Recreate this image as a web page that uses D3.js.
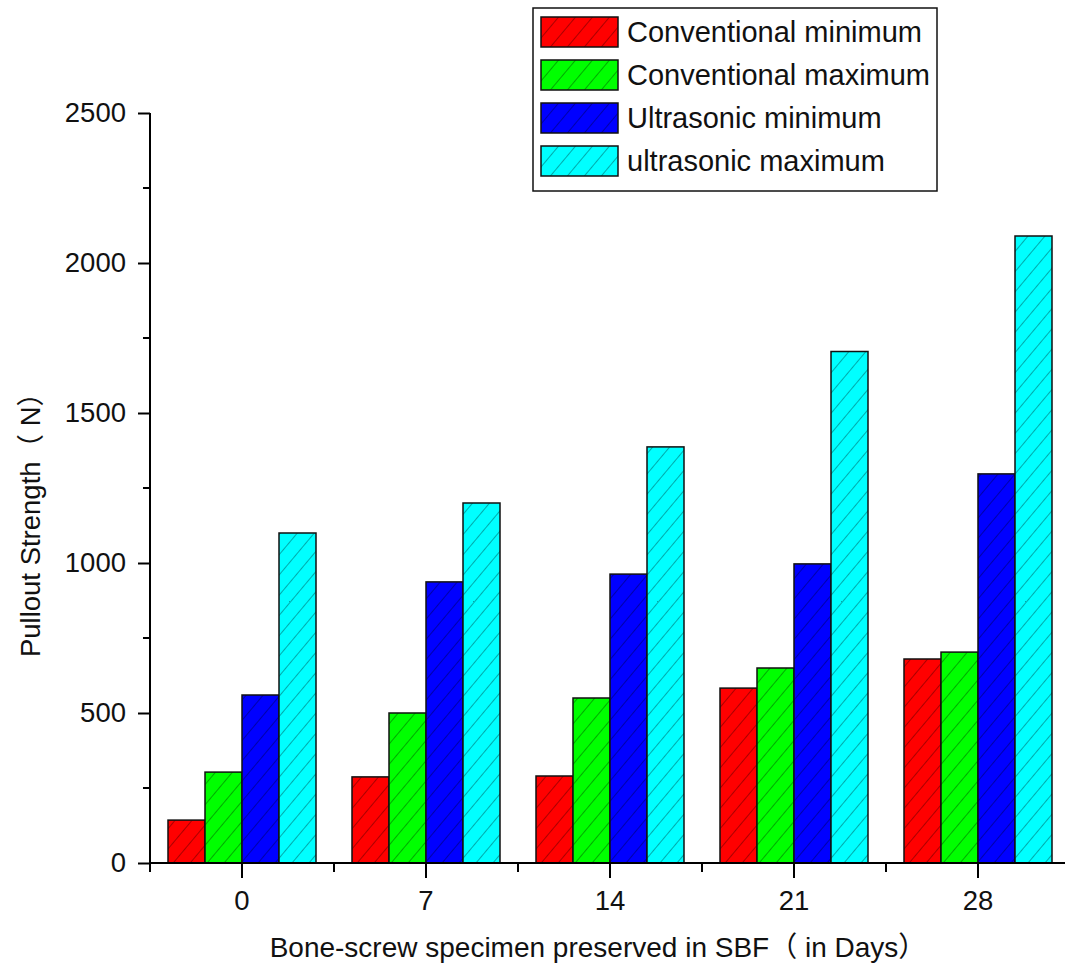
<!DOCTYPE html>
<html>
<head>
<meta charset="utf-8">
<script src="https://cdn.jsdelivr.net/npm/d3@7"></script>
<style>
  html, body { margin: 0; padding: 0; background: #fff; }
  svg { display: block; }
  text { font-family: "Liberation Sans", Arial, "Noto Sans CJK SC", sans-serif; fill: #111; }
</style>
</head>
<body>
<svg id="chart" width="1065" height="965"></svg>
<script>
// Pullout strength (N) of bone-screw specimens kept in SBF
const days = ["0", "7", "14", "21", "28"];
const seriesNames = ["Conventional minimum", "Conventional maximum", "Ultrasonic minimum", "ultrasonic maximum"];
const seriesColors = ["#ff0000", "#00ff00", "#0000ff", "#00ffff"];
const convMin = [143, 287, 290, 583, 680];
const convMax = [303, 500, 550, 650, 703];
const ultraMin = [560, 937, 963, 997, 1297];
const ultraMax = [1100, 1200, 1387, 1705, 2090];
const yTicks = [0, 500, 1000, 1500, 2000, 2500];
const yMinorTicks = [250, 750, 1250, 1750, 2250];

const values = [convMin, convMax, ultraMin, ultraMax];

const svg = d3.select("#chart");
const plotLeft = 150, plotRight = 1070, plotTop = 113, plotBottom = 863;

const x0 = d3.scaleBand().domain(days).range([plotLeft, plotRight]).padding(0);
const groupPad = 18;
const x1 = d3.scaleBand().domain(d3.range(seriesNames.length))
  .range([groupPad, x0.bandwidth() - groupPad]).padding(0);
const y = d3.scaleLinear().domain([0, 2500]).range([plotBottom, plotTop]);

// diagonal hatch patterns, one per colour
const defs = svg.append("defs");
seriesColors.forEach((c, i) => {
  const p = defs.append("pattern")
    .attr("id", "hatch" + i)
    .attr("patternUnits", "userSpaceOnUse")
    .attr("width", 13).attr("height", 13)
    .attr("patternTransform", "rotate(40)");
  p.append("rect").attr("width", 13).attr("height", 13).attr("fill", c);
  p.append("line").attr("x1", 0).attr("y1", 0).attr("x2", 0).attr("y2", 13)
    .attr("stroke", "#000").attr("stroke-opacity", 0.6).attr("stroke-width", 1.1);
});

// bars
const groups = svg.append("g").selectAll("g")
  .data(days).join("g")
  .attr("transform", d => `translate(${x0(d)},0)`);

groups.selectAll("rect")
  .data((d, di) => values.map((arr, si) => ({ si, v: arr[di] })))
  .join("rect")
  .attr("x", d => x1(d.si))
  .attr("width", x1.bandwidth())
  .attr("y", d => y(d.v))
  .attr("height", d => y(0) - y(d.v))
  .attr("fill", d => `url(#hatch${d.si})`)
  .attr("stroke", "#111")
  .attr("stroke-width", 1.5);

// y axis
const yAxis = svg.append("g").attr("transform", `translate(${plotLeft},0)`)
  .call(d3.axisLeft(y).tickValues(yTicks).tickSize(12).tickPadding(12).tickFormat(d3.format("d")));
yAxis.select(".domain").attr("stroke-width", 2).attr("d", `M0,${plotTop}V${plotBottom}`);
yAxis.selectAll(".tick line").attr("stroke-width", 2);
yAxis.selectAll(".tick text").attr("font-size", 27.5).style("font-family", "'Liberation Sans', Arial, sans-serif");
svg.append("g").selectAll("line").data(yMinorTicks).join("line")
  .attr("x1", plotLeft - 7).attr("x2", plotLeft)
  .attr("y1", d => y(d)).attr("y2", d => y(d))
  .attr("stroke", "#000").attr("stroke-width", 2);

// x axis
const xAxis = svg.append("g").attr("transform", `translate(0,${plotBottom})`)
  .call(d3.axisBottom(x0).tickSize(15).tickPadding(12));
xAxis.select(".domain").attr("stroke-width", 2).attr("d", `M${plotLeft},0H${plotRight}`);
xAxis.selectAll(".tick line").attr("stroke-width", 2);
xAxis.selectAll(".tick text").attr("font-size", 27.5).style("font-family", "'Liberation Sans', Arial, sans-serif");
const xMinor = days.map(d => x0(d));
svg.append("g").selectAll("line").data(xMinor).join("line")
  .attr("x1", d => d).attr("x2", d => d)
  .attr("y1", plotBottom).attr("y2", plotBottom + 9)
  .attr("stroke", "#000").attr("stroke-width", 2);

// axis titles
svg.append("text")
  .attr("x", 598).attr("y", 957)
  .attr("text-anchor", "middle").attr("font-size", 28)
  .text("Bone-screw specimen preserved in SBF（ in Days）");

svg.append("text")
  .attr("transform", "translate(40,518) rotate(-90)")
  .attr("text-anchor", "middle").attr("font-size", 27.5)
  .text("Pullout Strength（ N）");

// legend
const legend = svg.append("g");
legend.append("rect")
  .attr("x", 533).attr("y", 8).attr("width", 404).attr("height", 183)
  .attr("fill", "#fff").attr("stroke", "#111").attr("stroke-width", 1.5);
const rows = legend.selectAll("g.row").data(seriesNames).join("g")
  .attr("class", "row")
  .attr("transform", (d, i) => `translate(541,${17 + i * 43})`);
rows.append("rect")
  .attr("width", 77).attr("height", 30)
  .attr("fill", (d, i) => `url(#hatch${i})`)
  .attr("stroke", "#111").attr("stroke-width", 1.5);
rows.append("text")
  .attr("x", 86).attr("y", 25)
  .attr("font-size", 29)
  .text(d => d);
</script>
</body>
</html>
